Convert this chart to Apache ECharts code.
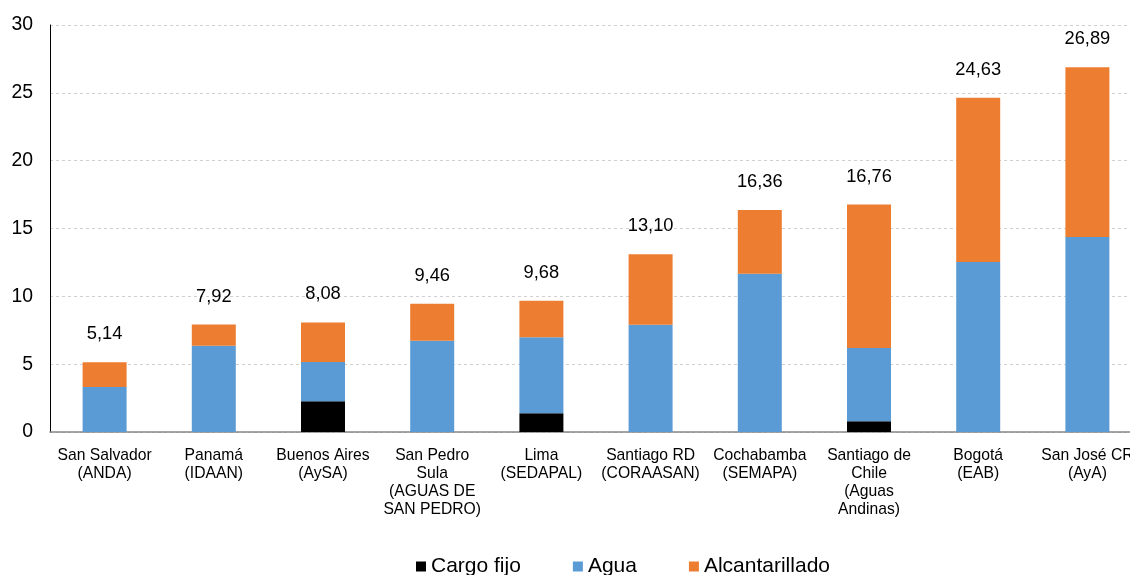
<!DOCTYPE html>
<html>
<head>
<meta charset="utf-8">
<script src="https://cdn.jsdelivr.net/npm/echarts@6/dist/echarts.min.js"></script>
<style>html,body{margin:0;padding:0;background:#fff;overflow:hidden}#c{width:1130px;height:575px}</style>
</head>
<body>
<div id="c"></div>
<script>
const categories = ["San Salvador\n(ANDA)","Panamá\n(IDAAN)","Buenos Aires\n(AySA)","San Pedro\nSula\n(AGUAS DE\nSAN PEDRO)","Lima\n(SEDAPAL)","Santiago RD\n(CORAASAN)","Cochabamba\n(SEMAPA)","Santiago de\nChile\n(Aguas\nAndinas)","Bogotá\n(EAB)","San José CR\n(AyA)"];
const cargoFijo = [0, 0, 2.26, 0, 1.38, 0, 0, 0.79, 0, 0];
const agua = [3.32, 6.36, 2.90, 6.73, 5.60, 7.91, 11.67, 5.40, 12.53, 14.37];
const alcantarillado = [1.82, 1.56, 2.92, 2.73, 2.70, 5.19, 4.69, 10.57, 12.10, 12.52];
const totals = ["5,14","7,92","8,08","9,46","9,68","13,10","16,36","16,76","24,63","26,89"];
const yTicks = [0, 5, 10, 15, 20, 25, 30];

const chart = echarts.init(document.getElementById('c'));
const font = 'Liberation Sans, Arial, sans-serif';
chart.setOption({
  animation: false,
  textStyle: {fontFamily: font},
  grid: {left: 50, top: 25, bottom: 143, width: 1092, containLabel: false, outerBoundsMode: 'none'},
  legend: {
    data: ['Cargo fijo','Agua','Alcantarillado'],
    top: 551, left: 411,
    icon: 'rect', itemWidth: 10, itemHeight: 10, itemGap: 52,
    textStyle: {fontSize: 21, color: '#000', fontFamily: font}
  },
  xAxis: {
    type: 'category', data: categories,
    axisLine: {lineStyle: {color: '#868686', width: 1.5}},
    axisTick: {show: false},
    axisLabel: {interval: 0, fontSize: 15.7, color: '#000', lineHeight: 18, margin: 15, fontFamily: font, hideOverlap: false},
  },
  yAxis: {
    type: 'value', min: yTicks[0], max: yTicks[yTicks.length-1], interval: 5,
    axisLine: {show: true, lineStyle: {color: '#000', width: 1}},
    axisTick: {show: false},
    axisLabel: {fontSize: 19.4, color: '#000', margin: 17, fontFamily: font},
    splitLine: {lineStyle: {color: '#d0d0d0', type: [3, 3], width: 1}}
  },
  series: [
    {name: 'Cargo fijo', type: 'bar', stack: 't', data: cargoFijo, barWidth: 44, itemStyle: {color: '#000000'}},
    {name: 'Agua', type: 'bar', stack: 't', data: agua, itemStyle: {color: '#5B9BD5'}},
    {name: 'Alcantarillado', type: 'bar', stack: 't', data: alcantarillado, itemStyle: {color: '#ED7D31'},
      label: {show: true, position: 'top', distance: 19, fontSize: 18.3, color: '#000', fontFamily: font,
        formatter: p => totals[p.dataIndex]}}
  ]
});
</script>
</body>
</html>
